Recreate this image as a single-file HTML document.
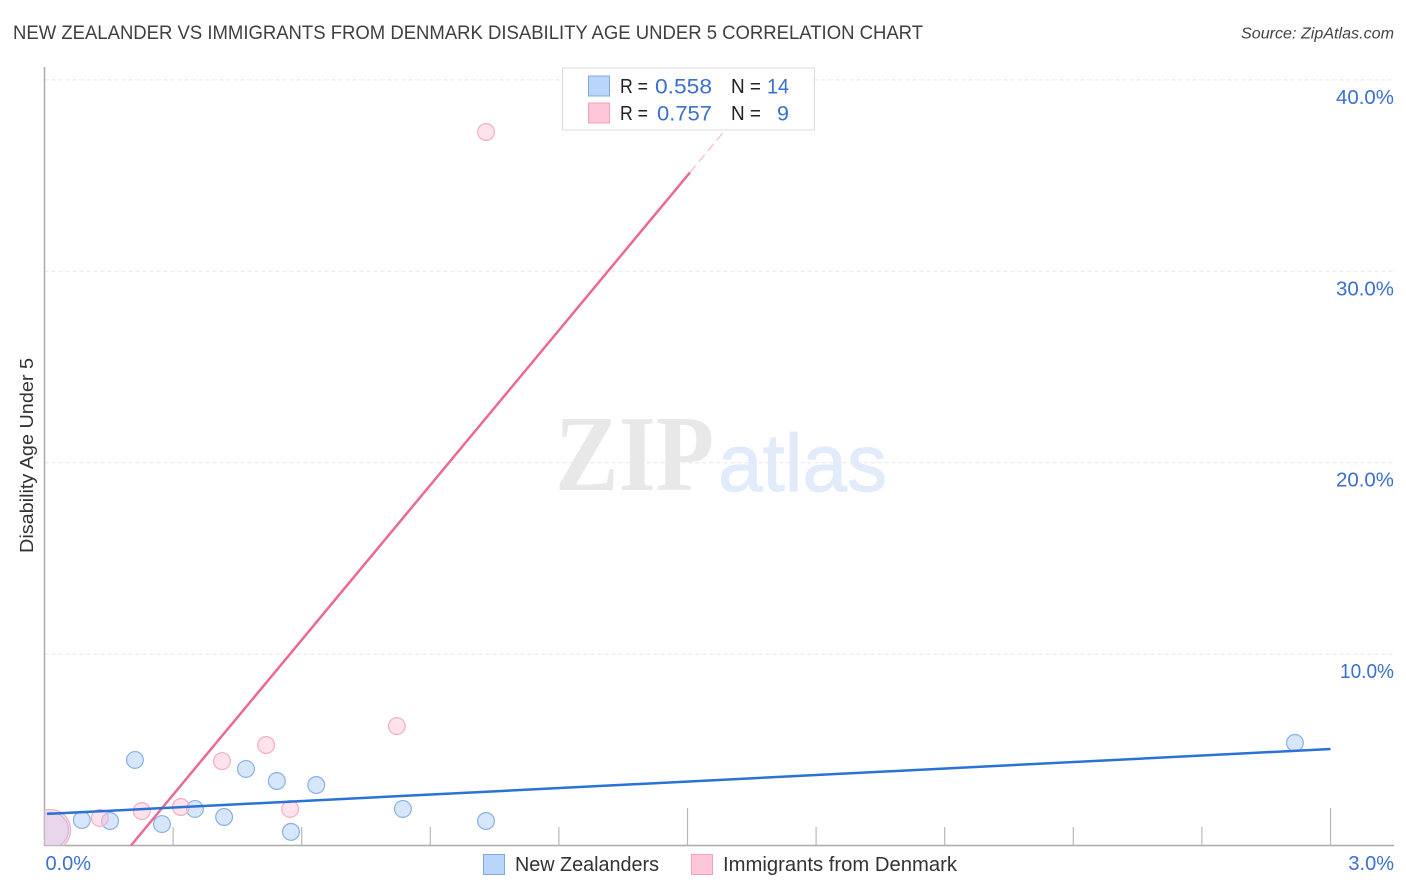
<!DOCTYPE html>
<html lang="en">
<head>
<meta charset="utf-8">
<title>New Zealander vs Immigrants from Denmark Disability Age Under 5 Correlation Chart</title>
<style>
html,body{margin:0;padding:0;background:#fff;}
svg{display:block;font-family:"Liberation Sans",sans-serif;}
</style>
</head>
<body>
<svg id="chart" xmlns="http://www.w3.org/2000/svg" width="1406" height="892" viewBox="0 0 1406 892">
  <defs><clipPath id="plot-clip"><rect x="44.5" y="60" width="1350" height="785.5"/></clipPath></defs>
  <rect x="0" y="0" width="1406" height="892" fill="#fff"/>
  <text x="13" y="39" font-size="19.5" fill="#3f3f3f" textLength="910" lengthAdjust="spacingAndGlyphs">NEW ZEALANDER VS IMMIGRANTS FROM DENMARK DISABILITY AGE UNDER 5 CORRELATION CHART</text>
  <text x="1394" y="38.500" font-size="15.5" font-style="italic" fill="#444" text-anchor="end" textLength="153" lengthAdjust="spacingAndGlyphs">Source: ZipAtlas.com</text>
  <text transform="translate(33,553) rotate(-90)" font-size="18" fill="#333" textLength="195" lengthAdjust="spacingAndGlyphs">Disability Age Under 5</text>
  <g id="grid"></g>
  <g>
    <text x="555" y="490" font-family="'Liberation Serif',serif" font-size="108" font-weight="bold" fill="#e8e8e8" textLength="159" lengthAdjust="spacingAndGlyphs">ZIP</text>
    <text x="718" y="491" font-size="82" fill="#e2ebfa" stroke="#e2ebfa" stroke-width="1" textLength="169" lengthAdjust="spacingAndGlyphs">atlas</text>
  </g>
  <g id="axes"></g>
  <g id="points" clip-path="url(#plot-clip)"></g>
  <g id="lines"></g>
  <g>
    <rect x="562.500" y="68" width="252" height="62" fill="#fff" fill-opacity="0.88" stroke="#ddd" stroke-width="1"/>
    <rect x="588.500" y="76" width="21" height="20" fill="#b9d5fa" stroke="#7fa9dc" stroke-width="1"/>
    <rect x="588.500" y="103" width="21" height="20" fill="#fdc6d9" stroke="#f4a0ba" stroke-width="1"/>
    <g font-size="20">
      <text x="620" y="93" fill="#222" textLength="28" lengthAdjust="spacingAndGlyphs">R =</text>
      <text x="655" y="93.500" fill="#3a70cf" font-size="21.500" textLength="57" lengthAdjust="spacingAndGlyphs">0.558</text>
      <text x="731" y="93" fill="#222" textLength="30" lengthAdjust="spacingAndGlyphs">N =</text>
      <text x="767" y="93.500" fill="#3a70cf" font-size="21.500" textLength="22" lengthAdjust="spacingAndGlyphs">14</text>
      <text x="620" y="120" fill="#222" textLength="28" lengthAdjust="spacingAndGlyphs">R =</text>
      <text x="657" y="120.500" fill="#3a70cf" font-size="21.500" textLength="55" lengthAdjust="spacingAndGlyphs">0.757</text>
      <text x="731" y="120" fill="#222" textLength="30" lengthAdjust="spacingAndGlyphs">N =</text>
      <text x="777" y="120.500" fill="#3a70cf" font-size="21.500">9</text>
    </g>
  </g>
  <g id="tick-labels"></g>
  <g>
    <g>
      <rect x="483.500" y="854.500" width="21" height="20" fill="#b9d5fa" stroke="#7fa9dc" stroke-width="1"/>
      <text x="515" y="871" font-size="20" fill="#333" textLength="144" lengthAdjust="spacingAndGlyphs">New Zealanders</text>
    </g>
    <g>
      <rect x="691.500" y="854.500" width="21" height="20" fill="#fdc6d9" stroke="#f4a0ba" stroke-width="1"/>
      <text x="723" y="871" font-size="20" fill="#333" textLength="234" lengthAdjust="spacingAndGlyphs">Immigrants from Denmark</text>
    </g>
  </g>
</svg>
<script>
const blueX = [0.015, 0.087, 0.153, 0.211, 0.274, 0.351, 0.419, 0.470, 0.542, 0.575, 0.634, 0.836, 1.030, 2.917];
const blueY = [0.81, 1.33, 1.28, 4.47, 1.12, 1.91, 1.49, 4.00, 3.37, 0.71, 3.16, 1.91, 1.28, 5.36];
const blueWeight = [4.4, 1, 1, 1, 1, 1, 1, 1, 1, 1, 1, 1, 1, 1];
const pinkX = [0.013, 0.129, 0.227, 0.318, 0.414, 0.517, 0.573, 0.822, 1.030];
const pinkY = [0.81, 1.44, 1.80, 2.01, 4.41, 5.25, 1.91, 6.24, 37.28];
const pinkWeight = [6, 1, 1, 1, 1, 1, 1, 1, 1];
const blueTrendX = [0.006, 3.0];
const blueTrendY = [1.65, 5.04];
const pinkTrendX = [0.2017, 1.5056];
const pinkTrendY = [0, 35.16];
const pinkExtendX = [1.5056, 1.685];
const pinkExtendY = [35.16, 40];
const yTicks = [10, 20, 30, 40];
const yTickLabels = ['10.0%', '20.0%', '30.0%', '40.0%'];
const xTicks = [0.3, 0.6, 0.9, 1.2, 1.5, 1.8, 2.1, 2.4, 2.7, 3.0];
const xMajorTicks = [1.5, 3.0];
const xEndValues = [0, 3];
const xEndLabels = ['0.0%', '3.0%'];

const NS = 'http://www.w3.org/2000/svg';
const xScale = v => 44.5 + v * 428.67;
const yScale = v => 845.5 - v * 19.14;
const rScale = w => 8.4 * Math.sqrt(w);

function mk(tag, attrs, parent) {
  const el = document.createElementNS(NS, tag);
  for (const k in attrs) el.setAttribute(k, attrs[k]);
  parent.appendChild(el);
  return el;
}

const gridG = document.getElementById('grid');
const axesG = document.getElementById('axes');
const pointsG = document.getElementById('points');
const linesG = document.getElementById('lines');
const labelsG = document.getElementById('tick-labels');

yTicks.forEach((t, i) => {
  const g = mk('line', {x1: 44.5, x2: 1394, y1: yScale(t), y2: yScale(t), stroke: '#e6e6e6', 'stroke-width': 1, 'stroke-dasharray': '4 3'}, gridG);
  
  
  const lab = mk('text', {x: 1394, y: yScale(t) + 24, 'text-anchor': 'end', 'font-size': 20, fill: '#3a70cf', textLength: t === 10 ? 54 : 58, lengthAdjust: 'spacingAndGlyphs'}, labelsG);
  lab.textContent = yTickLabels[i];
  
  
});

const yAxis = mk('line', {x1: 44.5, x2: 44.5, y1: 67, y2: 846, stroke: '#aaaaaa', 'stroke-width': 1.5}, axesG);


const xAxis = mk('line', {x1: 44, x2: 1394, y1: 845.5, y2: 845.5, stroke: '#aaaaaa', 'stroke-width': 1.5}, axesG);



xTicks.forEach(t => {
  const top = xMajorTicks.includes(t) ? 808 : 827;
  const tk = mk('line', {x1: xScale(t), x2: xScale(t), y1: top, y2: 845.5, stroke: '#b8b8b8', 'stroke-width': 1.2}, axesG);
  
  
});

xEndValues.forEach((t, i) => {
  const lab = mk('text', {x: i === 0 ? xScale(t) + 1 : 1394, y: 870, 'text-anchor': i === 0 ? 'start' : 'end', 'font-size': 20, fill: '#3a70cf'}, labelsG);
  lab.textContent = xEndLabels[i];
  
  
});

blueX.forEach((v, i) => {
  const c = mk('circle', {cx: xScale(v), cy: yScale(blueY[i]), r: rScale(blueWeight[i]), fill: '#b9d5fa', 'fill-opacity': 0.58, stroke: '#8ab0e4', 'stroke-width': 1.2}, pointsG);
  
  
});
pinkX.forEach((v, i) => {
  const c = mk('circle', {cx: xScale(v), cy: yScale(pinkY[i]), r: rScale(pinkWeight[i]), fill: '#fdc6d9', 'fill-opacity': 0.5, stroke: '#f3adc3', 'stroke-width': 1.2}, pointsG);
  
  
});

const pinkExt = mk('line', {x1: xScale(pinkExtendX[0]), y1: yScale(pinkExtendY[0]), x2: xScale(pinkExtendX[1]), y2: yScale(pinkExtendY[1]), stroke: '#ee6b93', 'stroke-width': 1, 'stroke-dasharray': '9 5', 'stroke-opacity': 0.55}, linesG);


const pinkLine = mk('line', {x1: xScale(pinkTrendX[0]), y1: yScale(pinkTrendY[0]), x2: xScale(pinkTrendX[1]), y2: yScale(pinkTrendY[1]), stroke: '#ea6a92', 'stroke-width': 2.5}, linesG);


const blueLine = mk('line', {x1: xScale(blueTrendX[0]), y1: yScale(blueTrendY[0]), x2: xScale(blueTrendX[1]), y2: yScale(blueTrendY[1]), stroke: '#2a72d6', 'stroke-width': 2.5}, linesG);


</script>
</body>
</html>
